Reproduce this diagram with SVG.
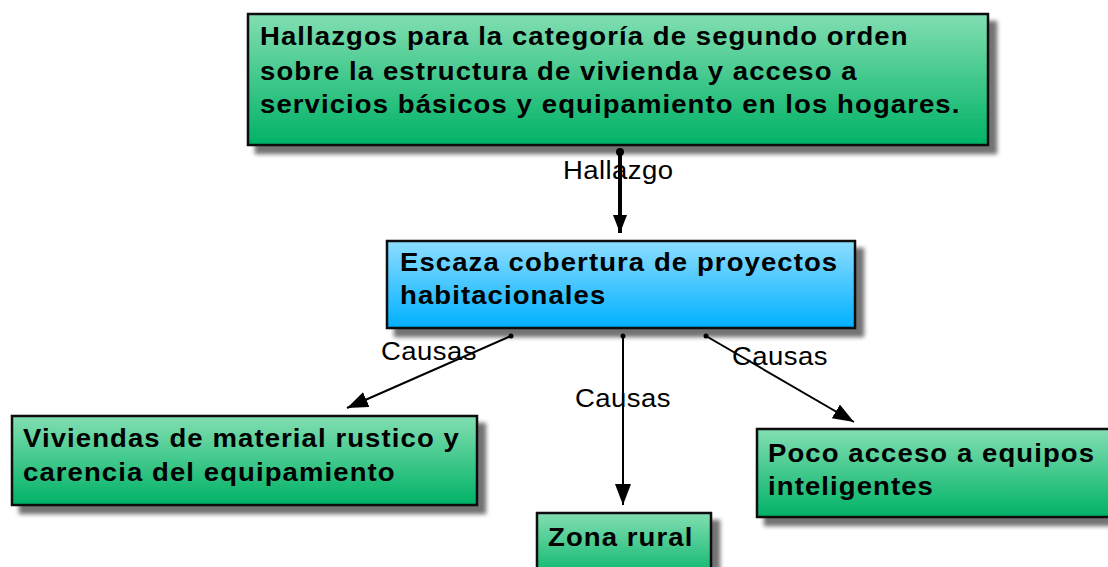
<svg xmlns="http://www.w3.org/2000/svg" width="1108" height="567" viewBox="0 0 1108 567">
  <defs>
    <linearGradient id="gGreen" x1="0" y1="0" x2="0" y2="1">
      <stop offset="0" stop-color="#82DEB2"/>
      <stop offset="1" stop-color="#00B266"/>
    </linearGradient>
    <linearGradient id="gBlue" x1="0" y1="0" x2="0" y2="1">
      <stop offset="0" stop-color="#8DDDFF"/>
      <stop offset="1" stop-color="#00B0FF"/>
    </linearGradient>
    <filter id="shadow" x="-5%" y="-10%" width="115%" height="130%">
      <feGaussianBlur in="SourceAlpha" stdDeviation="2"/>
      <feOffset dx="8" dy="8" result="b"/>
      <feComponentTransfer in="b" result="s">
        <feFuncA type="linear" slope="0.55"/>
      </feComponentTransfer>
      <feMerge>
        <feMergeNode in="s"/>
        <feMergeNode in="SourceGraphic"/>
      </feMerge>
    </filter>
    <marker id="arrow" markerUnits="userSpaceOnUse" markerWidth="24" markerHeight="18" refX="21" refY="8" orient="auto">
      <path d="M0,0 L21,8 L0,16 z" fill="#000"/>
    </marker>
    <marker id="arrowH" markerUnits="userSpaceOnUse" markerWidth="20" markerHeight="16" refX="18" refY="7" orient="auto">
      <path d="M0,0 L18,7 L0,14 z" fill="#000"/>
    </marker>
  </defs>
  <style>
    .box { stroke: #111; stroke-width: 2.5; }
    .green { fill: url(#gGreen); }
    .blue { fill: url(#gBlue); }
    .nt { font-family: "Liberation Sans", Arial, sans-serif; font-weight: bold; font-size: 25px; letter-spacing: 1px; fill: #000; }
    .lbl { font-family: "Liberation Sans", Arial, sans-serif; font-size: 25px; letter-spacing: 0.4px; fill: #000; }
    .conn { stroke: #000; stroke-width: 2; fill: none; }
  </style>
  <rect width="1108" height="567" fill="#fff"/>

  <g id="node-hallazgos">
    <rect class="box green" x="248" y="14" width="740" height="131" filter="url(#shadow)"/>
    <text class="nt" transform="matrix(1.1 0 0 1 260 45)">Hallazgos para la categoría de segundo orden</text>
    <text class="nt" transform="matrix(1.1 0 0 1 260 80)">sobre la estructura de vivienda y acceso a</text>
    <text class="nt" transform="matrix(1.1 0 0 1 260 113)">servicios básicos y equipamiento en los hogares.</text>
  </g>

  <g id="node-escaza">
    <rect class="box blue" x="387" y="241" width="468" height="87" filter="url(#shadow)"/>
    <text class="nt" transform="matrix(1.1 0 0 1 400 271)">Escaza cobertura de proyectos</text>
    <text class="nt" transform="matrix(1.1 0 0 1 400 304)">habitacionales</text>
  </g>

  <g id="node-viviendas">
    <rect class="box green" x="12" y="416" width="465" height="89" filter="url(#shadow)"/>
    <text class="nt" transform="matrix(1.1 0 0 1 23 447)">Viviendas de material rustico y</text>
    <text class="nt" transform="matrix(1.1 0 0 1 23 481)">carencia del equipamiento</text>
  </g>

  <g id="node-zona">
    <rect class="box green" x="537" y="513" width="174" height="70" filter="url(#shadow)"/>
    <text class="nt" transform="matrix(1.1 0 0 1 548 546)">Zona rural</text>
  </g>

  <g id="node-poco">
    <rect class="box green" x="757" y="429" width="370" height="88" filter="url(#shadow)"/>
    <text class="nt" transform="matrix(1.1 0 0 1 768 462)">Poco acceso a equipos</text>
    <text class="nt" transform="matrix(1.1 0 0 1 768 495)">inteligentes</text>
  </g>

  <g id="connectors">
    <line x1="620" y1="152" x2="620" y2="233" stroke="#000" stroke-width="4" marker-end="url(#arrowH)"/>
    <circle cx="620" cy="152" r="4" fill="#000"/>
    <text class="lbl" transform="matrix(1.1 0 0 1 563 179)">Hallazgo</text>

    <line class="conn" x1="511" y1="336" x2="347" y2="408" marker-end="url(#arrow)"/>
    <circle cx="511" cy="336" r="2.5" fill="#000"/>
    <text class="lbl" transform="matrix(1.1 0 0 1 381 360)">Causas</text>

    <line class="conn" x1="623" y1="336" x2="623" y2="505" marker-end="url(#arrow)"/>
    <circle cx="623" cy="336" r="2.5" fill="#000"/>
    <text class="lbl" transform="matrix(1.1 0 0 1 575 407)">Causas</text>

    <line class="conn" x1="706" y1="336" x2="854" y2="422" marker-end="url(#arrow)"/>
    <circle cx="706" cy="336" r="2.5" fill="#000"/>
    <text class="lbl" transform="matrix(1.1 0 0 1 732 365)">Causas</text>
  </g>
</svg>
